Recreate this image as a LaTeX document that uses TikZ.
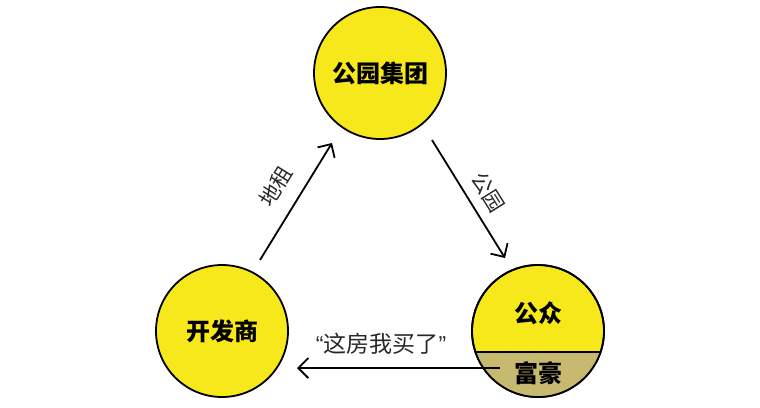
\documentclass[tikz,border=0pt]{standalone}
\usepackage{fontspec}
\newfontfamily\cjk{Noto Sans CJK SC}
\newfontfamily\latinq{Liberation Sans}
\usetikzlibrary{arrows.meta}
\definecolor{cyellow}{RGB}{247,232,27}
\definecolor{ctan}{RGB}{199,185,112}
\definecolor{ctext}{RGB}{40,40,40}
\tikzset{
  party/.style={circle, draw=black, line width=1.8pt, fill=cyellow, minimum size=132pt, inner sep=0pt},
  ptext/.style={font=\cjk\bfseries\fontsize{24}{26}\selectfont, text=black, inner sep=0pt},
  arr/.style={line width=1.8pt, -{Straight Barb[length=10pt, width=20pt, line width=1.8pt]}},
  alabel/.style={font=\cjk\fontsize{21}{23}\selectfont, text=ctext, inner sep=0pt},
}
\begin{document}
\begin{tikzpicture}[x=1pt, y=-1pt]
\useasboundingbox (0,0) rectangle (760,407);
% circles
\node[party] (park) at (380,73) {};
\node[party] (dev) at (222,331) {};
\node[party] (pub) at (538,331) {};
\begin{scope}
  \clip (pub.center) circle (66);
  \fill[ctan] (460,352) rectangle (620,410);
  \draw[line width=1.8pt] (460,352) -- (620,352);
\end{scope}
\draw[line width=1.8pt] (pub.center) circle (66);
% texts in circles
\node[ptext] (parkt) at (park.center) {公园集团};
\node[ptext] (devt) at (dev.center) {开发商};
\node[ptext] (pubt) at (538,313) {公众};
\node[ptext] (richt) at (538,373) {富豪};
% arrows
\coordinate (a1s) at (260,260);
\coordinate (a1e) at (332,143);
\coordinate (a2s) at (432,140);
\coordinate (a2e) at (505,258);
\coordinate (a3s) at (500,368);
\coordinate (a3e) at (297,368);
\draw[arr] (a1s) -- (a1e);
\draw[arr] (a2s) -- (a2e);
\draw[arr] (a3s) -- (a3e);
% labels
\node[alabel, rotate=58] (l1) at (276,186) {地租};
\node[alabel, rotate=-58] (l2) at (488,192) {公园};
\node[alabel, font=\cjk\fontsize{23}{25}\selectfont] (l3) at (381,344) {{\latinq “}这房我买了{\latinq ”}};
\end{tikzpicture}
\end{document}
